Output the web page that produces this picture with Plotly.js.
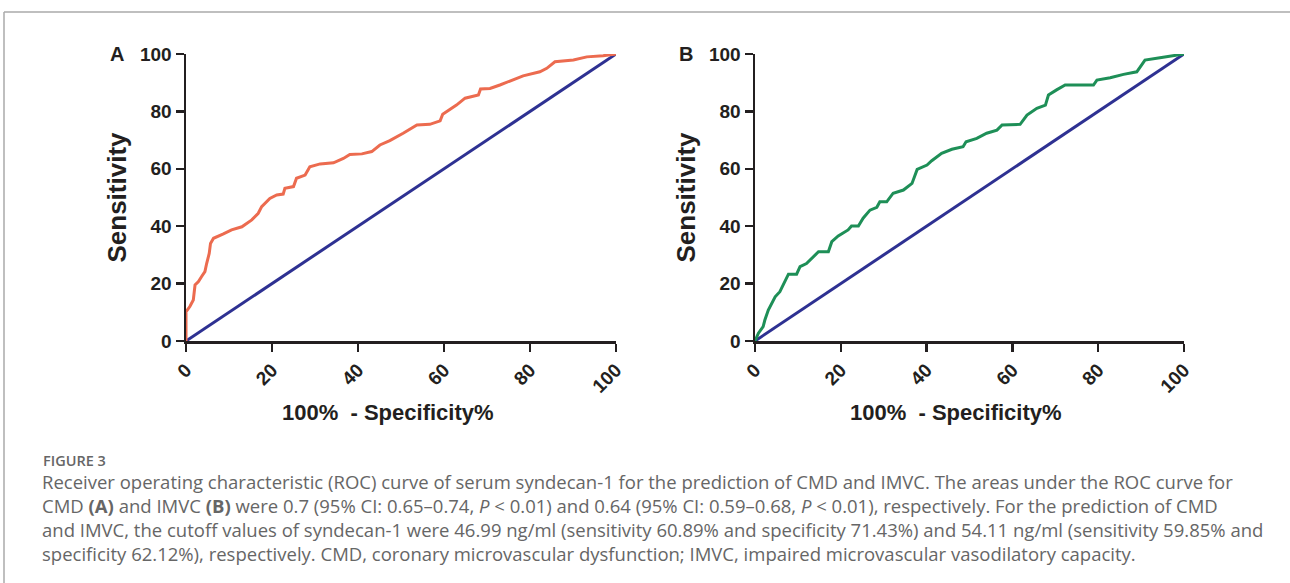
<!DOCTYPE html>
<html>
<head>
<meta charset="utf-8">
<script src="https://cdn.plot.ly/plotly-3.0.1.min.js"></script>
<style>html,body{margin:0;padding:0;background:#fff;}#chart{width:1290px;height:583px;}</style>
</head>
<body>
<div id="chart"></div>
<script>
// Panel A: CMD ROC curve (100% - specificity %, sensitivity %)
const rocA_x = [0,0,0.9,1.7,2.1,2.9,3.6,4.4,4.8,5.4,5.7,6.4,8.7,10.6,13,15.3,16.8,17.6,19.5,21.1,22.6,23,25,25.7,27.7,28.8,31.2,34.3,36.6,38.1,40.9,43.2,45.1,47.4,50.5,53.7,56.7,59.1,59.7,62.9,64.9,68,68.5,70.7,73,76.1,78.4,82.3,83.9,85.8,90.1,93.2,97,100];
const rocA_y = [0,10.2,12,14.3,19.5,20.7,22.4,24.2,27,30.5,34,35.8,37.3,38.7,39.8,42.2,44.5,46.8,49.7,50.9,51.2,53.2,53.8,56.7,57.8,60.7,61.7,62.1,63.6,65,65.2,66,68.3,69.8,72.4,75.3,75.5,76.7,79,82.2,84.6,85.7,87.8,88,89.2,90.9,92.4,93.8,95,97.3,97.9,99,99.4,100];
// Panel B: IMVC ROC curve
const rocB_x = [0,0.8,1.9,2.3,3.1,4.7,5.8,6.6,7.8,9.7,10.5,12,13.6,14.8,17.1,17.9,19.4,21.7,22.5,24.1,25.2,26.8,28.4,29.1,30.7,32.2,34.6,36.6,37.8,40.1,41.2,43.5,45.9,48.5,49.2,51.7,54,56.4,57.6,61.8,63.4,65.7,67.7,68.4,70.3,72.3,78.9,79.7,82.8,85.9,89,90.2,90.9,94.4,97.5,100];
const rocB_y = [0,2.7,5,7.3,10.8,15.4,17.2,19.5,23.3,23.3,25.9,27,29.4,31.1,31.1,34.6,36.6,38.7,40.1,40.1,42.8,45.6,46.6,48.5,48.5,51.5,52.6,54.9,59.8,61.3,62.8,65.4,66.8,67.7,69.4,70.6,72.4,73.5,75.3,75.5,78.7,81.1,82.2,85.7,87.5,89.2,89.2,90.9,91.7,92.9,93.8,96.2,97.9,98.7,99.4,100];
// Reference (chance) line
const ref_x = [0,100];
const ref_y = [0,100];
const tickVals = [0,20,40,60,80,100];
const tickText = ["0","20","40","60","80","100"];
const panelLabels = ["A","B"];
const xTitle = "100%  - Specificity%";
const yTitle = "Sensitivity";
const figLabel = "FIGURE 3";
const captionLines = [
  "Receiver operating characteristic (ROC) curve of serum syndecan-1 for the prediction of CMD and IMVC. The areas under the ROC curve for",
  "CMD <b>(A)</b> and IMVC <b>(B)</b> were 0.7 (95% CI: 0.65\u20130.74, <i>P</i> &lt; 0.01) and 0.64 (95% CI: 0.59\u20130.68, <i>P</i> &lt; 0.01), respectively. For the prediction of CMD",
  "and IMVC, the cutoff values of syndecan-1 were 46.99 ng/ml (sensitivity 60.89% and specificity 71.43%) and 54.11 ng/ml (sensitivity 59.85% and",
  "specificity 62.12%), respectively. CMD, coronary microvascular dysfunction; IMVC, impaired microvascular vasodilatory capacity."
];

const W = 1290, H = 583;
const AX = "#231F20";
const navy = "#2E3192";
const orange = "#EC6B4F";
const green = "#1E8F57";
const FONT = "Liberation Sans, Arial, sans-serif";

const traces = [
  {x: ref_x, y: ref_y, xaxis: "x", yaxis: "y", mode: "lines", line: {color: navy, width: 3}, cliponaxis: false, hoverinfo: "skip"},
  {x: rocA_x, y: rocA_y, xaxis: "x", yaxis: "y", mode: "lines", line: {color: orange, width: 3}, cliponaxis: false},
  {x: ref_x, y: ref_y, xaxis: "x2", yaxis: "y2", mode: "lines", line: {color: navy, width: 3}, cliponaxis: false, hoverinfo: "skip"},
  {x: rocB_x, y: rocB_y, xaxis: "x2", yaxis: "y2", mode: "lines", line: {color: green, width: 3}, cliponaxis: false}
];

function xax(domain, anchor) {
  return {
    domain: domain, anchor: anchor, range: [0, 100], fixedrange: true,
    showgrid: false, zeroline: false, showline: true, linecolor: AX, linewidth: 2.5,
    ticks: "outside", ticklen: 8, tickwidth: 2.5, tickcolor: AX,
    tickvals: tickVals, ticktext: tickText, tickangle: -45,
    tickfont: {family: FONT, size: 19, color: AX, weight: "bold"},
    layer: "below traces"
  };
}
function yax(anchor) {
  return {
    domain: [1 - 341 / H, 1 - 54 / H], anchor: anchor, range: [0, 100], fixedrange: true,
    showgrid: false, zeroline: false, showline: true, linecolor: AX, linewidth: 2.5,
    ticks: "outside", ticklen: 8, tickwidth: 2.5, tickcolor: AX,
    tickvals: tickVals, ticktext: tickText,
    tickfont: {family: FONT, size: 19, color: AX, weight: "bold"},
    layer: "below traces",
    title: {text: "<b>" + yTitle + "</b>", standoff: 6,
            font: {family: FONT, size: 26, color: AX}}
  };
}

const annotations = [];
[[117, 54], [686, 54]].forEach((p, i) => {
  annotations.push({xref: "paper", yref: "paper", x: p[0] / W, y: 1 - p[1] / H, xanchor: "center", yanchor: "middle",
    text: "<b>" + panelLabels[i] + "</b>", showarrow: false,
    font: {family: FONT, size: 20, color: AX}});
});
// x-axis titles
[388, 956].forEach((cx) => {
  annotations.push({xref: "paper", yref: "paper", x: cx / W, y: 1 - 412 / H, xanchor: "center", yanchor: "middle",
    text: "<b>" + xTitle + "</b>", showarrow: false,
    font: {family: FONT, size: 22, color: AX}});
});
annotations.push({xref: "paper", yref: "paper", x: 41 / W, y: 1 - 460 / H, xanchor: "left", yanchor: "middle",
  text: figLabel, showarrow: false, font: {family: "Open Sans, sans-serif", size: 14.5, color: "#666", weight: 600}});
// caption as one multi-line text block
annotations.push({xref: "paper", yref: "paper", x: 40 / W, y: 1 - 517 / H, xanchor: "left", yanchor: "middle",
  text: captionLines.join("<br>"), showarrow: false, align: "left",
  font: {family: "Open Sans, sans-serif", size: 18.5, color: "#666"}});

const layout = {
  width: W, height: H, margin: {l: 0, r: 0, t: 0, b: 0},
  paper_bgcolor: "#fff", plot_bgcolor: "#fff", showlegend: false,
  xaxis: xax([186 / W, 616 / W], "y"),
  yaxis: yax("x"),
  xaxis2: xax([755 / W, 1184 / W], "y2"),
  yaxis2: yax("x2"),
  annotations: annotations,
  shapes: [
    {type: "line", xref: "paper", yref: "paper", x0: 4 / W, x1: 1, y0: 1 - 12 / H, y1: 1 - 12 / H, line: {color: "#aaa", width: 1.5}},
    {type: "line", xref: "paper", yref: "paper", x0: 4 / W, x1: 4 / W, y0: 1 - 12 / H, y1: 0, line: {color: "#aaa", width: 1.5}}
  ]
};

Plotly.newPlot("chart", traces, layout, {staticPlot: true, displayModeBar: false});
</script>
</body>
</html>
